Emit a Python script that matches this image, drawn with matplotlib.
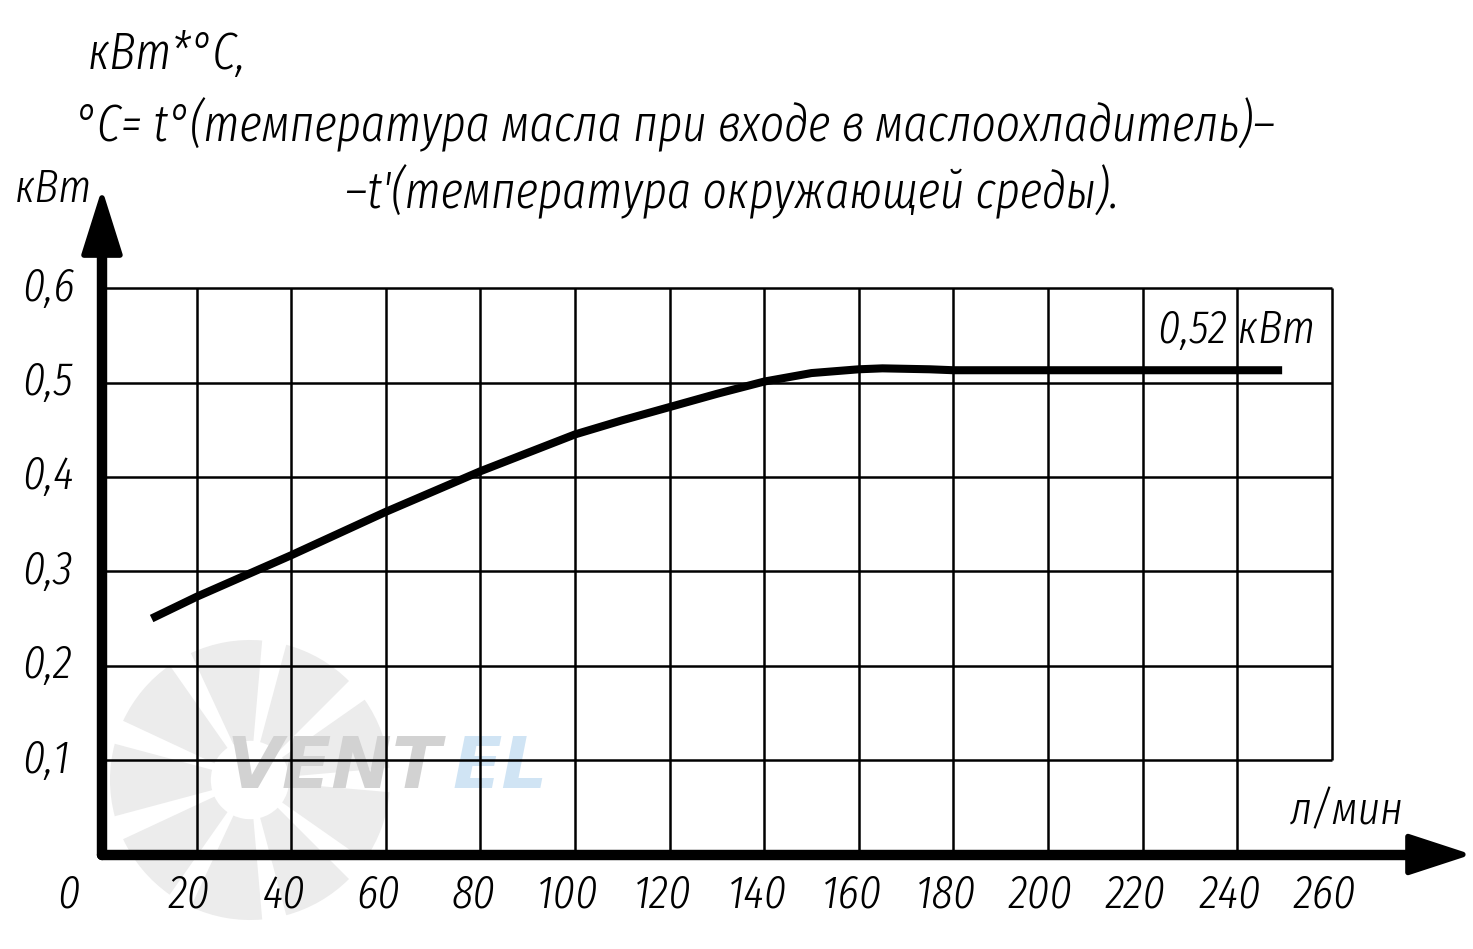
import matplotlib
matplotlib.use("Agg")
import matplotlib.pyplot as plt
from matplotlib.patches import Polygon, Wedge

# ---- data ----
flow = [10.5, 20, 40, 60, 80, 100, 110, 120, 130, 140, 150, 160, 165, 175, 180, 249.5]
power = [0.250, 0.273, 0.317, 0.363, 0.406, 0.445, 0.460, 0.474, 0.488, 0.501, 0.510, 0.514, 0.515, 0.514, 0.513, 0.513]
x_ticks = [0, 20, 40, 60, 80, 100, 120, 140, 160, 180, 200, 220, 240, 260]
x_tick_labels = ["0", "20", "40", "60", "80", "100", "120", "140", "160", "180", "200", "220", "240", "260"]
y_ticks = [0.1, 0.2, 0.3, 0.4, 0.5, 0.6]
y_tick_labels = ["0,1", "0,2", "0,3", "0,4", "0,5", "0,6"]
title_lines = ["кВт*°С,",
               "°С= t°(температура масла при входе в маслоохладитель)–",
               "–t'(температура окружающей среды)."]
y_unit = "кВт"
x_unit = "л/мин"
annotation = "0,52 кВт"

FONT = ["Fira Sans Extra Condensed", "DejaVu Sans"]
fs = 34
TXT = dict(family=FONT, style="italic", fontweight=300, fontsize=fs)
TTL = dict(family=FONT, style="italic", fontweight=300, fontsize=37)

fig = plt.figure(figsize=(14.73, 9.49), dpi=100)
fig.patch.set_facecolor("white")

# watermark fan (behind)
fan = fig.add_axes([0.0, 0.0, 1.0, 1.0], zorder=0)
fan.set_xlim(0, 1473); fan.set_ylim(949, 0); fan.set_aspect("equal"); fan.axis("off")
cx, cy, r = 250, 780, 140
for k in range(9):
    a0 = k * 40 + 5
    fan.add_patch(Wedge((cx, cy), r, a0, a0 + 30, width=r * 0.72, facecolor="#ececec", edgecolor="none"))
fan.text(226, 768, "VENT", fontsize=52, fontweight="bold", style="italic", color="#d2d2d2",
         family="DejaVu Sans", va="center", ha="left")
fan.text(452, 768, "EL", fontsize=52, fontweight="bold", style="italic", color="#d0e4f4",
         family="DejaVu Sans", va="center", ha="left")

ax = fig.add_axes([0.0, 0.0, 1.0, 1.0], zorder=1)
ax.patch.set_alpha(0)
ax.set_xlim(-21.56, 289.85)
ax.set_ylim(-0.1001, 0.9052)
ax.axis("off")

gw = 1.8
for gx in x_ticks[1:-1]:
    ax.plot([gx, gx], [0, y_ticks[-1]], color="black", lw=gw, solid_capstyle="butt")
ax.plot([x_ticks[-1], x_ticks[-1]], [y_ticks[0], y_ticks[-1]], color="black", lw=gw, solid_capstyle="butt")
for gy in y_ticks:
    ax.plot([0, x_ticks[-1]], [gy, gy], color="black", lw=gw, solid_capstyle="butt")

# axes with arrows
ax.plot([0, 0], [0, 0.64], color="black", lw=7.5, solid_capstyle="round", solid_joinstyle="round")
ax.plot([0, 277], [0, 0], color="black", lw=7.5, solid_capstyle="round", solid_joinstyle="round")
ax.add_patch(Polygon([[-3.8, 0.635], [3.8, 0.635], [0, 0.6955]], closed=True, facecolor="black",
                     edgecolor="black", lw=4, joinstyle="round"))
ax.add_patch(Polygon([[276.1, 0.019], [276.1, -0.019], [287.7, 0]], closed=True, facecolor="black",
                     edgecolor="black", lw=4, joinstyle="round"))

# curve
ax.plot(flow, power, color="black", lw=5.8, solid_capstyle="butt", solid_joinstyle="round")

# tick labels
for v, s in zip(y_ticks, y_tick_labels):
    ax.text(-16.9, v, s, ha="left", va="center", **TXT)
for v, s in zip(x_ticks, x_tick_labels):
    xx = v - 1.5 if v else -7
    ax.text(xx, -0.043, s, ha="center", va="center", **TXT)

ax.text(-18.5, 0.705, y_unit, ha="left", va="center", **TXT)
ax.text(251, 0.045, x_unit, ha="left", va="center", **TXT)
ax.text(256.5, 0.555, annotation, ha="right", va="center", **TXT)

fig.text(88 / 1473, 1 - 55 / 949, title_lines[0], ha="left", va="center", **TTL)
fig.text(75 / 1473, 1 - 125 / 949, title_lines[1], ha="left", va="center", **TTL)
fig.text(345 / 1473, 1 - 192 / 949, title_lines[2], ha="left", va="center", **TTL)

fig.savefig("out.png", dpi=100, facecolor="white")
